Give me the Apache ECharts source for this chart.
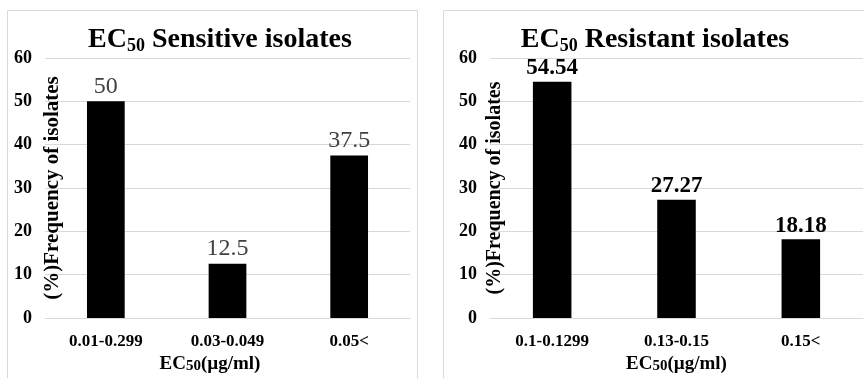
<!DOCTYPE html>
<html>
<head>
<meta charset="utf-8">
<script src="https://cdn.jsdelivr.net/npm/echarts@6/dist/echarts.min.js"></script>
<style>
html,body{margin:0;padding:0;background:#fff;}
#c{width:864px;height:378px;}
</style>
</head>
<body>
<div id="c"></div>
<script>
// Data
const sensitiveCategories = ['0.01-0.299', '0.03-0.049', '0.05<'];
const sensitiveValues = [50, 12.5, 37.5];
const resistantCategories = ['0.1-0.1299', '0.13-0.15', '0.15<'];
const resistantValues = [54.54, 27.27, 18.18];
const yTicks = [0, 10, 20, 30, 40, 50, 60];
const titleSensitive = ['EC', '50', ' Sensitive isolates'];
const titleResistant = ['EC', '50', ' Resistant isolates'];
const yAxisName = '(%)Frequency of isolates';
const xAxisNameParts = ['EC', '50', '(µg/ml)'];

const FONT = '"Liberation Serif", "Times New Roman", serif';
const GRID_COLOR = '#d9d9d9';

const chart = echarts.init(document.getElementById('c'), null, {renderer: 'canvas'});

function titleRich() {
  return {
    m: {fontFamily: FONT, fontWeight: 'bold', fontSize: 28, color: '#000', lineHeight: 30},
    s: {fontFamily: FONT, fontWeight: 'bold', fontSize: 18, color: '#000', lineHeight: 14, verticalAlign: 'bottom'}
  };
}
function xNameRich() {
  return {
    m: {fontFamily: FONT, fontWeight: 'bold', fontSize: 19, color: '#000', lineHeight: 20},
    s: {fontFamily: FONT, fontWeight: 'bold', fontSize: 15, color: '#000', lineHeight: 16, verticalAlign: 'bottom'}
  };
}
const xName = '{m|' + xAxisNameParts[0] + '}{s|' + xAxisNameParts[1] + '}{m|' + xAxisNameParts[2] + '}';

function yAxis(gridIndex, nameGap, nameSize) {
  return {
    type: 'value', gridIndex: gridIndex,
    min: yTicks[0], max: yTicks[yTicks.length - 1], interval: yTicks[1] - yTicks[0],
    name: yAxisName, nameLocation: 'middle', nameRotate: 90, nameGap: nameGap,
    nameMoveOverlap: false,
    nameTextStyle: {fontFamily: FONT, fontWeight: 'bold', fontSize: nameSize, color: '#000'},
    axisLine: {show: false}, axisTick: {show: false},
    axisLabel: {fontFamily: FONT, fontWeight: 'bold', fontSize: 18, color: '#000', margin: 13},
    splitLine: {lineStyle: {color: GRID_COLOR, width: 1}}
  };
}
function xAxis(gridIndex, cats, pad) {
  return {
    type: 'category', gridIndex: gridIndex, data: cats,
    name: xName, nameLocation: 'middle', nameGap: 36,
    nameMoveOverlap: false,
    nameTextStyle: {rich: xNameRich(), padding: pad},
    axisLine: {lineStyle: {color: GRID_COLOR, width: 1}}, axisTick: {show: false},
    axisLabel: {fontFamily: FONT, fontWeight: 'bold', fontSize: 17, color: '#000', margin: 15}
  };
}

const option = {
  backgroundColor: '#fff',
  animation: false,
  title: [
    {
      text: '{m|' + titleSensitive[0] + '}{s|' + titleSensitive[1] + '}{m|' + titleSensitive[2] + '}',
      left: 215, top: 20, textAlign: 'center',
      textStyle: {rich: titleRich()}
    },
    {
      text: '{m|' + titleResistant[0] + '}{s|' + titleResistant[1] + '}{m|' + titleResistant[2] + '}',
      left: 650, top: 20, textAlign: 'center',
      textStyle: {rich: titleRich()}
    }
  ],
  graphic: [
    {type: 'rect', shape: {x: 7.5, y: 10.5, width: 410, height: 400}, style: {fill: null, stroke: GRID_COLOR, lineWidth: 1}, z: -1},
    {type: 'rect', shape: {x: 443.5, y: 10.5, width: 440, height: 400}, style: {fill: null, stroke: GRID_COLOR, lineWidth: 1}, z: -1}
  ],
  grid: [
    {left: 45, right: 454, top: 58, bottom: 60, containLabel: false, outerBoundsMode: 'none'},
    {left: 490, right: 1, top: 58, bottom: 60, containLabel: false, outerBoundsMode: 'none'}
  ],
  xAxis: [xAxis(0, sensitiveCategories, [0, 35, 0, 0]), xAxis(1, resistantCategories, [0, 0, 0, 0])],
  yAxis: [yAxis(0, -18, 21), yAxis(1, -15, 20)],
  series: [
    {
      type: 'bar', xAxisIndex: 0, yAxisIndex: 0, data: sensitiveValues,
      barWidth: '31%', itemStyle: {color: '#000'},
      label: {show: true, position: 'top', distance: 3, fontFamily: FONT, fontSize: 24, color: '#404040'}
    },
    {
      type: 'bar', xAxisIndex: 1, yAxisIndex: 1, data: resistantValues,
      barWidth: '31%', itemStyle: {color: '#000'},
      label: {show: true, position: 'top', distance: 2, fontFamily: FONT, fontWeight: 'bold', fontSize: 23, color: '#000'}
    }
  ]
};
chart.setOption(option);
</script>
</body>
</html>
